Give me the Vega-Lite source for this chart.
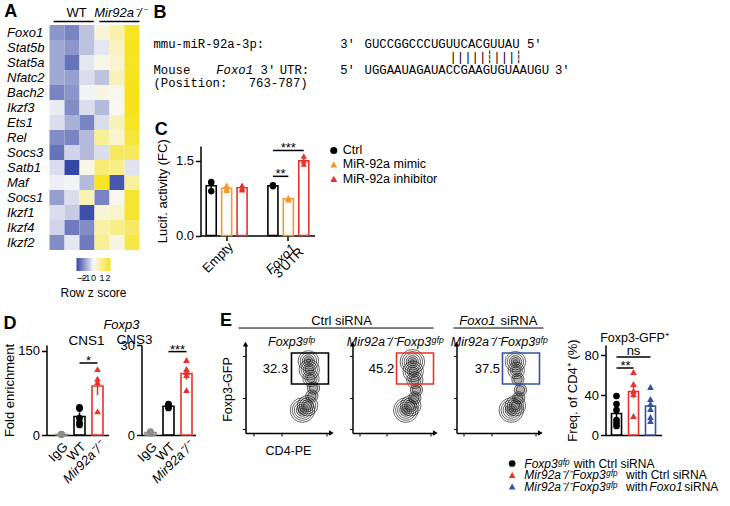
{
  "$schema": "https://vega.github.io/schema/vega-lite/v6.json",
  "autosize": {"type": "pad"},
  "padding": {"left": 2.5, "top": 3, "right": 0, "bottom": 0},
  "background": "white",
  "bounds": "flush",
  "spacing": 338,
  "config": {
    "view": {"stroke": null},
    "font": "Liberation Sans",
    "axis": {"domainColor": "#000", "domainWidth": 1.5, "tickColor": "#000", "tickWidth": 1.5, "tickSize": 5, "labelColor": "#000", "labelFontSize": 13, "labelFont": "Liberation Sans", "titleFont": "Liberation Sans", "titleFontSize": 13, "titleFontWeight": "normal", "titleColor": "#000", "grid": false, "labelPadding": 2},
    "title": {"font": "Liberation Sans", "color": "#000", "fontWeight": "normal"},
    "text": {"font": "Liberation Sans", "color": "#000"},
    "legend": {"labelFont": "Liberation Sans", "titleFont": "Liberation Sans", "labelColor": "#000", "titleColor": "#000"}
  },
  "resolve": {"scale": {"color": "independent", "shape": "independent", "stroke": "independent", "size": "independent"}, "legend": {"color": "independent", "shape": "independent", "stroke": "independent", "size": "independent"}},
  "datasets": {
    "heat": [
      {"gene": "Foxo1", "WT1": -1.1, "WT2": -1.3, "WT3": -0.6, "KO1": 0.3, "KO2": 0.7, "KO3": 1.9},
      {"gene": "Stat5b", "WT1": -0.9, "WT2": -1.1, "WT3": -0.6, "KO1": -0.2, "KO2": 0.5, "KO3": 1.95},
      {"gene": "Stat5a", "WT1": -0.9, "WT2": -1.5, "WT3": -0.2, "KO1": 0.15, "KO2": 0.35, "KO3": 1.9},
      {"gene": "Nfatc2", "WT1": -0.9, "WT2": -1.0, "WT3": -0.3, "KO1": -0.6, "KO2": 0.55, "KO3": 1.95},
      {"gene": "Bach2", "WT1": -1.3, "WT2": -1.1, "WT3": -0.05, "KO1": 0.2, "KO2": 0.1, "KO3": 2.0},
      {"gene": "Ikzf3", "WT1": -0.15, "WT2": -1.2, "WT3": -0.3, "KO1": -0.7, "KO2": 0.05, "KO3": 2.0},
      {"gene": "Ets1", "WT1": -0.3, "WT2": -0.8, "WT3": -1.3, "KO1": -0.3, "KO2": 0.55, "KO3": 1.9},
      {"gene": "Rel", "WT1": -1.2, "WT2": -1.3, "WT3": -0.7, "KO1": 0.9, "KO2": 0.4, "KO3": 1.7},
      {"gene": "Socs3", "WT1": -1.5, "WT2": -0.4, "WT3": -0.7, "KO1": -0.3, "KO2": 1.4, "KO3": 1.4},
      {"gene": "Satb1", "WT1": -0.3, "WT2": -2.0, "WT3": 0.15, "KO1": 1.2, "KO2": 1.0, "KO3": -0.25},
      {"gene": "Maf", "WT1": -0.1, "WT2": -0.05, "WT3": -0.7, "KO1": 1.9, "KO2": -1.8, "KO3": 0.8},
      {"gene": "Socs1", "WT1": -1.0, "WT2": -0.3, "WT3": 0.6, "KO1": -1.3, "KO2": 0.1, "KO3": 1.8},
      {"gene": "Ikzf1", "WT1": -0.3, "WT2": -0.5, "WT3": -1.9, "KO1": 0.3, "KO2": 0.4, "KO3": 1.8},
      {"gene": "Ikzf4", "WT1": -0.4, "WT2": -1.4, "WT3": -1.2, "KO1": 0.7, "KO2": 1.0, "KO3": 1.3},
      {"gene": "Ikzf2", "WT1": -1.2, "WT2": -0.2, "WT3": -1.4, "KO1": 0.9, "KO2": 0.2, "KO3": 1.6}
    ],
    "hmHeader": [
      {"group": "WT", "start": 0, "end": 2.8, "center": 1.6, "italic": false},
      {"group": "Mir92a⁻/⁻", "start": 3.2, "end": 6, "center": 4.63, "italic": true}
    ],
    "seq": [
      {"line": -1.42, "col": 0, "text": "B", "style": "letter"},
      {"line": 1, "col": 0, "text": "mmu-miR-92a-3p:", "style": "mono"},
      {"line": 1, "col": 25.3, "text": "3'", "style": "mono"},
      {"line": 1, "col": 28.6, "text": "GUCCGGCCCUGUUCACGUUAU", "style": "mono"},
      {"line": 1, "col": 50.6, "text": "5'", "style": "mono"},
      {"line": 2, "col": 40.1, "text": "|||||┆|||┆", "style": "mono"},
      {"line": 3, "col": 0, "text": "Mouse", "style": "mono"},
      {"line": 3, "col": 8.5, "text": "Foxo1", "style": "monoItalic"},
      {"line": 3, "col": 14.5, "text": "3′", "style": "mono"},
      {"line": 3, "col": 17.1, "text": "UTR:", "style": "mono"},
      {"line": 3, "col": 25.3, "text": "5′", "style": "mono"},
      {"line": 3, "col": 28.6, "text": "UGGAAUAGAUACCGAAGUGUAAUGU", "style": "mono"},
      {"line": 3, "col": 54.4, "text": "3′", "style": "mono"},
      {"line": 4, "col": 0, "text": "(Position:", "style": "mono"},
      {"line": 4, "col": 12.9, "text": "763-787)", "style": "mono"}
    ],
    "lucifBars": [
      {"bar": "Empty|Ctrl", "trt": "Ctrl", "mean": 1.0, "lo": 0.94, "hi": 1.06},
      {"bar": "Empty|MiR-92a mimic", "trt": "MiR-92a mimic", "mean": 0.95, "lo": 0.92, "hi": 0.98},
      {"bar": "Empty|MiR-92a inhibitor", "trt": "MiR-92a inhibitor", "mean": 0.96, "lo": 0.93, "hi": 0.99},
      {"bar": "Foxo1|Ctrl", "trt": "Ctrl", "mean": 1.0, "lo": 0.99, "hi": 1.01},
      {"bar": "Foxo1|MiR-92a mimic", "trt": "MiR-92a mimic", "mean": 0.74, "lo": 0.725, "hi": 0.755},
      {"bar": "Foxo1|MiR-92a inhibitor", "trt": "MiR-92a inhibitor", "mean": 1.5, "lo": 1.45, "hi": 1.55}
    ],
    "lucifPts": [
      {"bar": "Empty|Ctrl", "treatment": "Ctrl", "value": 1.08},
      {"bar": "Empty|Ctrl", "treatment": "Ctrl", "value": 1.06},
      {"bar": "Empty|Ctrl", "treatment": "Ctrl", "value": 0.89},
      {"bar": "Empty|MiR-92a mimic", "treatment": "MiR-92a mimic", "value": 1.01},
      {"bar": "Empty|MiR-92a mimic", "treatment": "MiR-92a mimic", "value": 0.95},
      {"bar": "Empty|MiR-92a mimic", "treatment": "MiR-92a mimic", "value": 0.92},
      {"bar": "Empty|MiR-92a mimic", "treatment": "MiR-92a mimic", "value": 0.91},
      {"bar": "Empty|MiR-92a inhibitor", "treatment": "MiR-92a inhibitor", "value": 1.01},
      {"bar": "Empty|MiR-92a inhibitor", "treatment": "MiR-92a inhibitor", "value": 0.95},
      {"bar": "Empty|MiR-92a inhibitor", "treatment": "MiR-92a inhibitor", "value": 0.92},
      {"bar": "Foxo1|Ctrl", "treatment": "Ctrl", "value": 1.01},
      {"bar": "Foxo1|Ctrl", "treatment": "Ctrl", "value": 1.0},
      {"bar": "Foxo1|Ctrl", "treatment": "Ctrl", "value": 0.99},
      {"bar": "Foxo1|MiR-92a mimic", "treatment": "MiR-92a mimic", "value": 0.76},
      {"bar": "Foxo1|MiR-92a mimic", "treatment": "MiR-92a mimic", "value": 0.74},
      {"bar": "Foxo1|MiR-92a mimic", "treatment": "MiR-92a mimic", "value": 0.72},
      {"bar": "Foxo1|MiR-92a inhibitor", "treatment": "MiR-92a inhibitor", "value": 1.6},
      {"bar": "Foxo1|MiR-92a inhibitor", "treatment": "MiR-92a inhibitor", "value": 1.5},
      {"bar": "Foxo1|MiR-92a inhibitor", "treatment": "MiR-92a inhibitor", "value": 1.44}
    ],
    "lucifLegend": [
      {"bar": "Foxo1|MiR-92a inhibitor", "treatment": "Ctrl", "y": 1.71},
      {"bar": "Foxo1|MiR-92a inhibitor", "treatment": "MiR-92a mimic", "y": 1.43},
      {"bar": "Foxo1|MiR-92a inhibitor", "treatment": "MiR-92a inhibitor", "y": 1.14}
    ],
    "lucifSig": [
      {"from": "Foxo1|Ctrl", "to": "Foxo1|MiR-92a mimic", "y": 1.19},
      {"from": "Foxo1|Ctrl", "to": "Foxo1|MiR-92a inhibitor", "y": 1.71}
    ],
    "chipBars": [
      {"region": "CNS1", "cond": "IgG", "mean": 1, "lo": 0.6, "hi": 1.4},
      {"region": "CNS1", "cond": "WT", "mean": 33, "lo": 26, "hi": 40},
      {"region": "CNS1", "cond": "Mir92a⁻/⁻", "mean": 87, "lo": 71, "hi": 103},
      {"region": "CNS3", "cond": "IgG", "mean": 0.8, "lo": 0.6, "hi": 1.0},
      {"region": "CNS3", "cond": "WT", "mean": 9.6, "lo": 9.2, "hi": 10.0},
      {"region": "CNS3", "cond": "Mir92a⁻/⁻", "mean": 20.5, "lo": 18.5, "hi": 22.5}
    ],
    "chipPts": [
      {"region": "CNS1", "cond": "IgG", "value": 0.4},
      {"region": "CNS1", "cond": "IgG", "value": 0.9},
      {"region": "CNS1", "cond": "IgG", "value": 1.3},
      {"region": "CNS1", "cond": "IgG", "value": 1.6},
      {"region": "CNS1", "cond": "WT", "value": 49},
      {"region": "CNS1", "cond": "WT", "value": 47},
      {"region": "CNS1", "cond": "WT", "value": 30},
      {"region": "CNS1", "cond": "WT", "value": 22},
      {"region": "CNS1", "cond": "WT", "value": 18},
      {"region": "CNS1", "cond": "Mir92a⁻/⁻", "value": 117},
      {"region": "CNS1", "cond": "Mir92a⁻/⁻", "value": 100},
      {"region": "CNS1", "cond": "Mir92a⁻/⁻", "value": 94},
      {"region": "CNS1", "cond": "Mir92a⁻/⁻", "value": 42},
      {"region": "CNS3", "cond": "IgG", "value": 0.5},
      {"region": "CNS3", "cond": "IgG", "value": 0.8},
      {"region": "CNS3", "cond": "IgG", "value": 1.0},
      {"region": "CNS3", "cond": "IgG", "value": 1.1},
      {"region": "CNS3", "cond": "WT", "value": 10.3},
      {"region": "CNS3", "cond": "WT", "value": 9.9},
      {"region": "CNS3", "cond": "WT", "value": 9.4},
      {"region": "CNS3", "cond": "WT", "value": 9.0},
      {"region": "CNS3", "cond": "Mir92a⁻/⁻", "value": 25},
      {"region": "CNS3", "cond": "Mir92a⁻/⁻", "value": 22},
      {"region": "CNS3", "cond": "Mir92a⁻/⁻", "value": 21},
      {"region": "CNS3", "cond": "Mir92a⁻/⁻", "value": 20},
      {"region": "CNS3", "cond": "Mir92a⁻/⁻", "value": 15}
    ],
    "chipSig": [
      {"region": "CNS1", "from": "WT", "to": "Mir92a⁻/⁻", "y": 128, "label": "*"},
      {"region": "CNS3", "from": "WT", "to": "Mir92a⁻/⁻", "y": 27.8, "label": "***"}
    ],
    "freqBars": [
      {"grp": "Foxp3gfp with Ctrl siRNA", "mean": 21.5, "lo": 17, "hi": 26},
      {"grp": "Mir92a-/-Foxp3gfp with Ctrl siRNA", "mean": 43.5, "lo": 37, "hi": 50},
      {"grp": "Mir92a-/-Foxp3gfp with Foxo1 siRNA", "mean": 29, "lo": 24, "hi": 34}
    ],
    "freqPts": [
      {"grp": "Foxp3gfp with Ctrl siRNA", "value": 39},
      {"grp": "Foxp3gfp with Ctrl siRNA", "value": 31},
      {"grp": "Foxp3gfp with Ctrl siRNA", "value": 25},
      {"grp": "Foxp3gfp with Ctrl siRNA", "value": 15},
      {"grp": "Foxp3gfp with Ctrl siRNA", "value": 12},
      {"grp": "Foxp3gfp with Ctrl siRNA", "value": 9},
      {"grp": "Mir92a-/-Foxp3gfp with Ctrl siRNA", "value": 63},
      {"grp": "Mir92a-/-Foxp3gfp with Ctrl siRNA", "value": 51},
      {"grp": "Mir92a-/-Foxp3gfp with Ctrl siRNA", "value": 44},
      {"grp": "Mir92a-/-Foxp3gfp with Ctrl siRNA", "value": 41},
      {"grp": "Mir92a-/-Foxp3gfp with Ctrl siRNA", "value": 19},
      {"grp": "Mir92a-/-Foxp3gfp with Foxo1 siRNA", "value": 48},
      {"grp": "Mir92a-/-Foxp3gfp with Foxo1 siRNA", "value": 36},
      {"grp": "Mir92a-/-Foxp3gfp with Foxo1 siRNA", "value": 31},
      {"grp": "Mir92a-/-Foxp3gfp with Foxo1 siRNA", "value": 26},
      {"grp": "Mir92a-/-Foxp3gfp with Foxo1 siRNA", "value": 18},
      {"grp": "Mir92a-/-Foxp3gfp with Foxo1 siRNA", "value": 14}
    ],
    "freqSig": [
      {"from": "Foxp3gfp with Ctrl siRNA", "to": "Mir92a-/-Foxp3gfp with Ctrl siRNA", "y": 67},
      {"from": "Foxp3gfp with Ctrl siRNA", "to": "Mir92a-/-Foxp3gfp with Foxo1 siRNA", "y": 78}
    ],
    "rings": [
      {"plot": 1, "cx": 74, "cy": 82, "rings": [1, 2, 3, 4, 5]},
      {"plot": 1, "cx": 75, "cy": 72, "rings": [2, 3, 4, 5]},
      {"plot": 1, "cx": 77, "cy": 62, "rings": [2, 3, 4]},
      {"plot": 1, "cx": 80, "cy": 51, "rings": [2, 3]},
      {"plot": 1, "cx": 78, "cy": 42, "rings": [2, 3]},
      {"plot": 1, "cx": 67, "cy": 26, "rings": [1, 2, 3, 4, 5, 6]},
      {"plot": 1, "cx": 73, "cy": 31, "rings": [2, 3, 4, 5]},
      {"plot": 2, "cx": 73, "cy": 81, "rings": [1, 2, 3, 4, 5, 6]},
      {"plot": 2, "cx": 74, "cy": 70, "rings": [2, 3, 4, 5]},
      {"plot": 2, "cx": 76, "cy": 60, "rings": [2, 3, 4]},
      {"plot": 2, "cx": 78, "cy": 49, "rings": [2, 3]},
      {"plot": 2, "cx": 76, "cy": 40, "rings": [2, 3]},
      {"plot": 2, "cx": 65, "cy": 26, "rings": [1, 2, 3, 4, 5, 6]},
      {"plot": 2, "cx": 71, "cy": 31, "rings": [2, 3, 4, 5]},
      {"plot": 3, "cx": 71, "cy": 81, "rings": [1, 2, 3, 4, 5]},
      {"plot": 3, "cx": 72, "cy": 71, "rings": [2, 3, 4]},
      {"plot": 3, "cx": 74, "cy": 61, "rings": [2, 3]},
      {"plot": 3, "cx": 77, "cy": 49, "rings": [2, 3]},
      {"plot": 3, "cx": 75, "cy": 40, "rings": [2, 3]},
      {"plot": 3, "cx": 66, "cy": 26, "rings": [1, 2, 3, 4, 5, 6]},
      {"plot": 3, "cx": 71, "cy": 31, "rings": [2, 3, 4, 5]}
    ],
    "gates": [
      {"plot": 1, "x1": 54.1, "x2": 97.6, "y1": 55.7, "y2": 90.9, "label": "32.3", "lx": 35.3, "ly": 72.7},
      {"plot": 2, "x1": 53.7, "x2": 98.8, "y1": 55.7, "y2": 90.9, "label": "45.2", "lx": 35.4, "ly": 72.7},
      {"plot": 3, "x1": 55.4, "x2": 100, "y1": 55.7, "y2": 90.9, "label": "37.5", "lx": 37.3, "ly": 72.7}
    ],
    "axisEnds": [
      {"x": 0, "y": 101, "dir": "up"},
      {"x": 101, "y": 0, "dir": "right"}
    ],
    "eLegSym": [
      {"row": 1, "grp": "Foxp3gfp with Ctrl siRNA"},
      {"row": 2, "grp": "Mir92a-/-Foxp3gfp with Ctrl siRNA"},
      {"row": 3, "grp": "Mir92a-/-Foxp3gfp with Foxo1 siRNA"}
    ],
    "eLegText": [
      {"row": 1, "x": 13, "text": "Foxp3ᵍᶠᵖ", "style": "italic"},
      {"row": 1, "x": 66, "text": "with Ctrl siRNA", "style": "normal"},
      {"row": 2, "x": 13, "text": "Mir92a⁻/⁻Foxp3ᵍᶠᵖ", "style": "italic"},
      {"row": 2, "x": 122, "text": "with Ctrl siRNA", "style": "normal"},
      {"row": 3, "x": 13, "text": "Mir92a⁻/⁻Foxp3ᵍᶠᵖ", "style": "italic"},
      {"row": 3, "x": 122, "text": "with", "style": "normal"},
      {"row": 3, "x": 147, "text": "Foxo1", "style": "italic"},
      {"row": 3, "x": 184.5, "text": "siRNA", "style": "normal"}
    ]
  },
  "vconcat": [
    {
      "hconcat": [
        {
          "vconcat": [
            {
              "width": 93, "height": 18,
              "layer": [
                {"data": {"name": "hmHeader"}, "mark": {"type": "rule", "strokeWidth": 1.5, "color": "#000"},
                 "encoding": {"x": {"field": "start", "type": "quantitative", "scale": {"domain": [-0.2, 6]}, "axis": null}, "x2": {"field": "end"}, "y": {"datum": 0.19, "type": "quantitative", "scale": {"domain": [0, 1]}, "axis": null}}},
                {"data": {"name": "hmHeader"}, "transform": [{"filter": "!datum.italic"}], "mark": {"type": "text", "fontSize": 13, "baseline": "middle", "align": "center"},
                 "encoding": {"x": {"field": "center", "type": "quantitative"}, "y": {"datum": 0.67, "type": "quantitative"}, "text": {"field": "group"}}},
                {"data": {"name": "hmHeader"}, "transform": [{"filter": "datum.italic"}], "mark": {"type": "text", "fontSize": 13, "fontStyle": "italic", "baseline": "middle", "align": "center"},
                 "encoding": {"x": {"field": "center", "type": "quantitative"}, "y": {"datum": 0.67, "type": "quantitative"}, "text": {"field": "group"}}},
                {"data": {"values": [{"t": "A", "x": -3.0, "y": 0.72}]}, "mark": {"type": "text", "fontSize": 18, "fontWeight": "bold", "baseline": "middle", "align": "center"},
                 "encoding": {"x": {"field": "x", "type": "quantitative"}, "y": {"field": "y", "type": "quantitative"}, "text": {"field": "t"}}}
              ]
            },
            {
              "width": 93, "height": 225,
              "data": {"name": "heat"},
              "transform": [{"fold": ["WT1", "WT2", "WT3", "KO1", "KO2", "KO3"], "as": ["sample", "z"]}],
              "mark": {"type": "rect"},
              "encoding": {
                "x": {"field": "sample", "type": "nominal", "sort": ["WT1", "WT2", "WT3", "KO1", "KO2", "KO3"], "scale": {"paddingInner": 0, "paddingOuter": 0.1, "align": 1}, "axis": null},
                "y": {"field": "gene", "type": "nominal", "sort": ["Foxo1", "Stat5b", "Stat5a", "Nfatc2", "Bach2", "Ikzf3", "Ets1", "Rel", "Socs3", "Satb1", "Maf", "Socs1", "Ikzf1", "Ikzf4", "Ikzf2"], "scale": {"paddingInner": 0, "paddingOuter": 0},
                      "axis": {"title": null, "ticks": false, "domain": false, "labelAlign": "left", "labelPadding": 40, "labelFontStyle": "italic", "labelFontSize": 13, "labelBaseline": "middle"}},
                "color": {"field": "z", "type": "quantitative", "scale": {"domain": [-2, 0, 2], "range": ["#3446a6", "#f8f8f8", "#f6e31a"], "interpolate": "rgb"},
                          "legend": {"orient": "none", "legendX": 14, "legendY": 233, "direction": "horizontal", "gradientLength": 34, "gradientThickness": 13, "title": "Row z score", "titleOrient": "bottom", "titleFontSize": 12, "titleFontWeight": "normal", "titleAnchor": "middle", "values": [-2, -1, 0, 1, 2], "labelFontSize": 9, "labelOverlap": false, "padding": 0, "titlePadding": 5, "labelOffset": 3}}
              }
            }
          ],
          "spacing": 0, "bounds": "flush",
          "resolve": {"scale": {"color": "independent"}, "legend": {"color": "independent"}}
        },
        {
          "vconcat": [
            {
              "width": 348, "height": 82.5,
              "data": {"name": "seq"},
              "encoding": {
                "x": {"field": "col", "type": "quantitative", "scale": {"domain": [6.37, 53.52]}, "axis": null},
                "y": {"field": "line", "type": "quantitative", "scale": {"domain": [-1.846, 4.5], "reverse": true}, "axis": null},
                "text": {"field": "text"}
              },
              "layer": [
                {"transform": [{"filter": "datum.style == 'mono'"}], "mark": {"type": "text", "font": "Liberation Mono", "fontSize": 12.3, "align": "left", "baseline": "middle", "color": "#000"}},
                {"transform": [{"filter": "datum.style == 'monoItalic'"}], "mark": {"type": "text", "font": "Liberation Mono", "fontStyle": "italic", "fontSize": 12.3, "align": "left", "baseline": "middle", "color": "#000"}},
                {"transform": [{"filter": "datum.style == 'letter'"}], "mark": {"type": "text", "font": "Liberation Sans", "fontSize": 18, "fontWeight": "bold", "align": "left", "baseline": "middle", "color": "#000"}}
              ]
            },
            {
              "width": 114, "height": 89.5,
              "layer": [
                {"data": {"name": "lucifBars"}, "mark": {"type": "bar", "fill": "white", "strokeWidth": 1.6},
                 "encoding": {
                   "x": {"field": "bar", "type": "nominal", "scale": {"domain": ["Empty|Ctrl", "Empty|MiR-92a mimic", "Empty|MiR-92a inhibitor", "gap", "Foxo1|Ctrl", "Foxo1|MiR-92a mimic", "Foxo1|MiR-92a inhibitor"], "paddingInner": 0.35, "paddingOuter": 0.371},
                         "axis": {"values": ["Empty|MiR-92a mimic", "Foxo1|MiR-92a mimic"], "labels": false, "title": null, "ticks": true, "tickSize": 5}},
                   "y": {"field": "mean", "type": "quantitative", "scale": {"domain": [0, 1.8]}, "axis": {"values": [0, 0.5, 1, 1.5], "format": ".1f", "title": "Lucif. activity (FC)", "titlePadding": 6}},
                   "stroke": {"field": "trt", "type": "nominal", "scale": {"domain": ["Ctrl", "MiR-92a mimic", "MiR-92a inhibitor"], "range": ["#000000", "#f39a2c", "#e8322b"]}, "legend": null}
                 }},
                {"data": {"name": "lucifBars"}, "mark": {"type": "rule", "strokeWidth": 1.5},
                 "encoding": {"x": {"field": "bar", "type": "nominal"}, "y": {"field": "lo", "type": "quantitative"}, "y2": {"field": "hi"}, "stroke": {"field": "trt", "type": "nominal", "legend": null}}},
                {"data": {"name": "lucifPts"}, "mark": {"type": "point", "filled": true, "size": 40, "opacity": 1},
                 "encoding": {
                   "x": {"field": "bar", "type": "nominal"},
                   "y": {"field": "value", "type": "quantitative"},
                   "color": {"field": "treatment", "type": "nominal", "scale": {"domain": ["Ctrl", "MiR-92a mimic", "MiR-92a inhibitor"], "range": ["#000000", "#f39a2c", "#e8322b"]}, "legend": null},
                   "shape": {"field": "treatment", "type": "nominal", "scale": {"domain": ["Ctrl", "MiR-92a mimic", "MiR-92a inhibitor"], "range": ["circle", "triangle-up", "triangle-up"]}, "legend": null}
                 }},
                {"data": {"name": "lucifLegend"}, "mark": {"type": "point", "filled": true, "size": 50, "opacity": 1, "xOffset": 30},
                 "encoding": {"x": {"field": "bar", "type": "nominal"}, "y": {"field": "y", "type": "quantitative"}, "color": {"field": "treatment", "type": "nominal"}, "shape": {"field": "treatment", "type": "nominal"}}},
                {"data": {"name": "lucifLegend"}, "mark": {"type": "text", "fontSize": 12.5, "align": "left", "baseline": "middle", "dx": 39},
                 "encoding": {"x": {"field": "bar", "type": "nominal"}, "y": {"field": "y", "type": "quantitative"}, "text": {"field": "treatment"}}},
                {"data": {"name": "lucifSig"}, "mark": {"type": "rule", "strokeWidth": 1.5, "color": "#000"},
                 "encoding": {"x": {"field": "from", "type": "nominal"}, "x2": {"field": "to"}, "y": {"field": "y", "type": "quantitative"}}},
                {"data": {"values": [{"bar": "Foxo1|Ctrl", "y": 1.19, "t": "**"}]}, "mark": {"type": "text", "fontSize": 13, "align": "center", "baseline": "alphabetic", "dx": 7.7, "dy": 2},
                 "encoding": {"x": {"field": "bar", "type": "nominal"}, "y": {"field": "y", "type": "quantitative"}, "text": {"field": "t"}}},
                {"data": {"values": [{"bar": "Foxo1|MiR-92a mimic", "y": 1.71, "t": "***"}]}, "mark": {"type": "text", "fontSize": 13, "align": "center", "baseline": "alphabetic", "dy": 2},
                 "encoding": {"x": {"field": "bar", "type": "nominal"}, "y": {"field": "y", "type": "quantitative"}, "text": {"field": "t"}}},
                {"data": {"values": [{"bar": "Empty|MiR-92a mimic", "y": -0.1, "t": "Empty"}]}, "mark": {"type": "text", "fontSize": 13, "angle": 315, "align": "right", "baseline": "top"},
                 "encoding": {"x": {"field": "bar", "type": "nominal"}, "y": {"field": "y", "type": "quantitative"}, "text": {"field": "t"}}},
                {"data": {"values": [{"bar": "Foxo1|MiR-92a mimic", "y": -0.16, "t": "Foxo1"}]}, "mark": {"type": "text", "fontSize": 13, "fontStyle": "italic", "angle": 315, "align": "right", "baseline": "top", "dx": 1.5},
                 "encoding": {"x": {"field": "bar", "type": "nominal"}, "y": {"field": "y", "type": "quantitative"}, "text": {"field": "t"}}},
                {"data": {"values": [{"bar": "Foxo1|MiR-92a mimic", "y": -0.39, "t": "3′UTR"}]}, "mark": {"type": "text", "fontSize": 13, "angle": 315, "align": "right", "baseline": "top", "dx": 12.8},
                 "encoding": {"x": {"field": "bar", "type": "nominal"}, "y": {"field": "y", "type": "quantitative"}, "text": {"field": "t"}}},
                {"data": {"values": [{"bar": "Empty|Ctrl", "y": 2.12, "t": "C"}]}, "mark": {"type": "text", "fontSize": 18, "fontWeight": "bold", "align": "center", "baseline": "middle", "dx": -50},
                 "encoding": {"x": {"field": "bar", "type": "nominal"}, "y": {"field": "y", "type": "quantitative"}, "text": {"field": "t"}}}
              ]
            }
          ],
          "spacing": 56, "bounds": "flush",
          "resolve": {"scale": {"color": "independent", "shape": "independent", "stroke": "independent"}, "legend": {"color": "independent", "shape": "independent", "stroke": "independent"}}
        }
      ],
      "spacing": 154, "bounds": "flush",
      "resolve": {"scale": {"color": "independent", "shape": "independent", "stroke": "independent"}, "legend": {"color": "independent", "shape": "independent", "stroke": "independent"}}
    },
    {
      "hconcat": [
        {
          "hconcat": [
            {
              "width": 62, "height": 90,
              "layer": [
                {"data": {"name": "chipBars"}, "transform": [{"filter": "datum.region == 'CNS1'"}], "mark": {"type": "bar", "fill": "white", "strokeWidth": 1.6},
                 "encoding": {
                   "x": {"field": "cond", "type": "nominal", "scale": {"domain": ["IgG", "WT", "Mir92a⁻/⁻"], "paddingInner": 0.39, "paddingOuter": 0.417, "align": 0.633},
                         "axis": {"labelAngle": -45, "ticks": false, "tickSize": 0, "labelPadding": 5, "title": null, "labelFontSize": 13,
                                  "labelFontStyle": {"condition": {"test": "datum.value === 'Mir92a⁻/⁻'", "value": "italic"}, "value": "normal"}}},
                   "y": {"field": "mean", "type": "quantitative", "scale": {"domain": [0, 150]}, "axis": {"values": [0, 50, 100, 150], "title": "Fold enrichment", "titlePadding": 1}},
                   "stroke": {"field": "cond", "type": "nominal", "scale": {"domain": ["IgG", "WT", "Mir92a⁻/⁻"], "range": ["#8c8c8c", "#000000", "#e8322b"]}, "legend": null}
                 }},
                {"data": {"name": "chipBars"}, "transform": [{"filter": "datum.region == 'CNS1'"}], "mark": {"type": "rule", "strokeWidth": 1.5},
                 "encoding": {"x": {"field": "cond", "type": "nominal"}, "y": {"field": "lo", "type": "quantitative"}, "y2": {"field": "hi"}, "stroke": {"field": "cond", "type": "nominal"}}},
                {"data": {"name": "chipPts"}, "transform": [{"filter": "datum.region == 'CNS1'"}], "mark": {"type": "point", "filled": true, "size": 45, "opacity": 1},
                 "encoding": {"x": {"field": "cond", "type": "nominal"}, "y": {"field": "value", "type": "quantitative"},
                   "color": {"field": "cond", "type": "nominal", "scale": {"domain": ["IgG", "WT", "Mir92a⁻/⁻"], "range": ["#8c8c8c", "#000000", "#e8322b"]}, "legend": null},
                   "shape": {"field": "cond", "type": "nominal", "scale": {"domain": ["IgG", "WT", "Mir92a⁻/⁻"], "range": ["circle", "circle", "triangle-up"]}, "legend": null}}},
                {"data": {"name": "chipSig"}, "transform": [{"filter": "datum.region == 'CNS1'"}], "mark": {"type": "rule", "strokeWidth": 1.5, "color": "#000"},
                 "encoding": {"x": {"field": "from", "type": "nominal"}, "x2": {"field": "to"}, "y": {"field": "y", "type": "quantitative"}}},
                {"data": {"name": "chipSig"}, "transform": [{"filter": "datum.region == 'CNS1'"}], "mark": {"type": "text", "fontSize": 13, "align": "center", "baseline": "alphabetic", "dx": 9, "dy": 2},
                 "encoding": {"x": {"field": "from", "type": "nominal"}, "y": {"field": "y", "type": "quantitative"}, "text": {"field": "label"}}},
                {"data": {"values": [{"cond": "IgG", "y": 198, "t": "D"}]}, "mark": {"type": "text", "fontSize": 18, "fontWeight": "bold", "align": "center", "baseline": "middle", "dx": -51.5},
                 "encoding": {"x": {"field": "cond", "type": "nominal"}, "y": {"field": "y", "type": "quantitative"}, "text": {"field": "t"}}},
                {"data": {"values": [{"cond": "WT", "y": 168, "t": "CNS1"}]}, "mark": {"type": "text", "fontSize": 13.5, "align": "center", "baseline": "middle", "dx": 7},
                 "encoding": {"x": {"field": "cond", "type": "nominal"}, "y": {"field": "y", "type": "quantitative"}, "text": {"field": "t"}}}
              ]
            },
            {
              "width": 54, "height": 90,
              "layer": [
                {"data": {"name": "chipBars"}, "transform": [{"filter": "datum.region == 'CNS3'"}], "mark": {"type": "bar", "fill": "white", "strokeWidth": 1.6},
                 "encoding": {
                   "x": {"field": "cond", "type": "nominal", "scale": {"domain": ["IgG", "WT", "Mir92a⁻/⁻"], "paddingInner": 0.39, "paddingOuter": 0.194, "align": 0.5},
                         "axis": {"labelAngle": -45, "ticks": false, "tickSize": 0, "labelPadding": 5, "title": null, "labelFontSize": 13,
                                  "labelFontStyle": {"condition": {"test": "datum.value === 'Mir92a⁻/⁻'", "value": "italic"}, "value": "normal"}}},
                   "y": {"field": "mean", "type": "quantitative", "scale": {"domain": [0, 30]}, "axis": {"values": [0, 10, 20, 30], "title": null}},
                   "stroke": {"field": "cond", "type": "nominal", "scale": {"domain": ["IgG", "WT", "Mir92a⁻/⁻"], "range": ["#8c8c8c", "#000000", "#e8322b"]}, "legend": null}
                 }},
                {"data": {"name": "chipBars"}, "transform": [{"filter": "datum.region == 'CNS3'"}], "mark": {"type": "rule", "strokeWidth": 1.5},
                 "encoding": {"x": {"field": "cond", "type": "nominal"}, "y": {"field": "lo", "type": "quantitative"}, "y2": {"field": "hi"}, "stroke": {"field": "cond", "type": "nominal"}}},
                {"data": {"name": "chipPts"}, "transform": [{"filter": "datum.region == 'CNS3'"}], "mark": {"type": "point", "filled": true, "size": 45, "opacity": 1},
                 "encoding": {"x": {"field": "cond", "type": "nominal"}, "y": {"field": "value", "type": "quantitative"},
                   "color": {"field": "cond", "type": "nominal", "scale": {"domain": ["IgG", "WT", "Mir92a⁻/⁻"], "range": ["#8c8c8c", "#000000", "#e8322b"]}, "legend": null},
                   "shape": {"field": "cond", "type": "nominal", "scale": {"domain": ["IgG", "WT", "Mir92a⁻/⁻"], "range": ["circle", "circle", "triangle-up"]}, "legend": null}}},
                {"data": {"name": "chipSig"}, "transform": [{"filter": "datum.region == 'CNS3'"}], "mark": {"type": "rule", "strokeWidth": 1.5, "color": "#000"},
                 "encoding": {"x": {"field": "from", "type": "nominal"}, "x2": {"field": "to"}, "y": {"field": "y", "type": "quantitative"}}},
                {"data": {"name": "chipSig"}, "transform": [{"filter": "datum.region == 'CNS3'"}], "mark": {"type": "text", "fontSize": 13, "align": "center", "baseline": "alphabetic", "dx": 9, "dy": 2},
                 "encoding": {"x": {"field": "from", "type": "nominal"}, "y": {"field": "y", "type": "quantitative"}, "text": {"field": "t", "field": "label"}}},
                {"data": {"values": [{"cond": "IgG", "y": 31.6, "t": "CNS3"}]}, "mark": {"type": "text", "fontSize": 13.5, "align": "center", "baseline": "middle", "dx": -16},
                 "encoding": {"x": {"field": "cond", "type": "nominal"}, "y": {"field": "y", "type": "quantitative"}, "text": {"field": "t"}}},
                {"data": {"values": [{"cond": "IgG", "y": 36.8, "t": "Foxp3"}]}, "mark": {"type": "text", "fontSize": 13, "fontStyle": "italic", "align": "center", "baseline": "middle", "dx": -29},
                 "encoding": {"x": {"field": "cond", "type": "nominal"}, "y": {"field": "y", "type": "quantitative"}, "text": {"field": "t"}}}
              ]
            }
          ],
          "spacing": 33, "bounds": "flush",
          "resolve": {"scale": {"color": "independent", "shape": "independent", "stroke": "independent"}, "legend": {"color": "independent", "shape": "independent", "stroke": "independent"}}
        },
        {
          "hconcat": [
            {
              "hconcat": [
                {
                  "width": 85, "height": 88,
                  "layer": [
                    {"data": {"name": "rings"}, "transform": [{"filter": "datum.plot == 1"}, {"flatten": ["rings"], "as": ["ring"]}],
                     "mark": {"type": "point", "filled": false, "color": "#111", "strokeWidth": 0.7, "opacity": 0.9},
                     "encoding": {
                       "x": {"field": "cx", "type": "quantitative", "scale": {"domain": [0, 100]}, "axis": {"title": "CD4-PE", "labels": false, "values": [9, 24, 42, 71, 95], "tickSize": 3, "tickWidth": 1, "titlePadding": 8, "titleFontSize": 12.5}},
                       "y": {"field": "cy", "type": "quantitative", "scale": {"domain": [0, 100]}, "axis": {"title": "Foxp3-GFP", "labels": false, "values": [5, 24, 40, 65, 88], "tickSize": 3, "tickWidth": 1, "titlePadding": 8, "titleFontSize": 12.5}},
                       "size": {"field": "ring", "type": "quantitative", "scale": {"type": "pow", "exponent": 2, "domain": [0, 6], "range": [0, 600]}, "legend": null}
                     }},
                    {"data": {"name": "rings"}, "transform": [{"filter": "datum.plot == 1"}, {"flatten": ["rings"], "as": ["ring"]}, {"filter": "datum.ring <= 3"}],
                     "mark": {"type": "point", "filled": true, "color": "#222", "opacity": 0.2},
                     "encoding": {"x": {"field": "cx", "type": "quantitative"}, "y": {"field": "cy", "type": "quantitative"}, "size": {"field": "ring", "type": "quantitative"}}},
                    {"data": {"name": "gates"}, "transform": [{"filter": "datum.plot == 1"}], "mark": {"type": "rect", "filled": false, "color": "#000", "strokeWidth": 1.6},
                     "encoding": {"x": {"field": "x1", "type": "quantitative"}, "x2": {"field": "x2"}, "y": {"field": "y1", "type": "quantitative"}, "y2": {"field": "y2"}}},
                    {"data": {"name": "gates"}, "transform": [{"filter": "datum.plot == 1"}], "mark": {"type": "text", "fontSize": 13, "align": "center", "baseline": "middle"},
                     "encoding": {"x": {"field": "lx", "type": "quantitative"}, "y": {"field": "ly", "type": "quantitative"}, "text": {"field": "label"}}},
                    {"data": {"name": "axisEnds"}, "transform": [{"filter": "datum.dir == 'up'"}], "mark": {"type": "point", "shape": "triangle-up", "filled": true, "color": "#000", "size": 30, "opacity": 1},
                     "encoding": {"x": {"field": "x", "type": "quantitative"}, "y": {"field": "y", "type": "quantitative"}}},
                    {"data": {"name": "axisEnds"}, "transform": [{"filter": "datum.dir == 'right'"}], "mark": {"type": "point", "shape": "triangle-right", "filled": true, "color": "#000", "size": 30, "opacity": 1},
                     "encoding": {"x": {"field": "x", "type": "quantitative"}, "y": {"field": "y", "type": "quantitative"}}},
                    {"data": {"values": [{"x1": -8.2, "x2": 221.2, "y": 119.3}]}, "mark": {"type": "rule", "strokeWidth": 1, "color": "#000"},
                     "encoding": {"x": {"field": "x1", "type": "quantitative"}, "x2": {"field": "x2"}, "y": {"field": "y", "type": "quantitative"}}},
                    {"data": {"values": [{"x": 112.9, "y": 127.3, "t": "Ctrl siRNA"}]}, "mark": {"type": "text", "fontSize": 13, "align": "center", "baseline": "middle"},
                     "encoding": {"x": {"field": "x", "type": "quantitative"}, "y": {"field": "y", "type": "quantitative"}, "text": {"field": "t"}}},
                    {"data": {"values": [{"x": 54, "y": 103.4, "t": "Foxp3ᵍᶠᵖ"}]}, "mark": {"type": "text", "fontSize": 12.5, "fontStyle": "italic", "align": "center", "baseline": "middle"},
                     "encoding": {"x": {"field": "x", "type": "quantitative"}, "y": {"field": "y", "type": "quantitative"}, "text": {"field": "t"}}},
                    {"data": {"values": [{"x": -23, "y": 127.3, "t": "E"}]}, "mark": {"type": "text", "fontSize": 18, "fontWeight": "bold", "align": "center", "baseline": "middle"},
                     "encoding": {"x": {"field": "x", "type": "quantitative"}, "y": {"field": "y", "type": "quantitative"}, "text": {"field": "t"}}}
                  ]
                },
                {
                  "width": 82, "height": 88,
                  "layer": [
                    {"data": {"name": "rings"}, "transform": [{"filter": "datum.plot == 2"}, {"flatten": ["rings"], "as": ["ring"]}],
                     "mark": {"type": "point", "filled": false, "color": "#111", "strokeWidth": 0.7, "opacity": 0.9},
                     "encoding": {
                       "x": {"field": "cx", "type": "quantitative", "scale": {"domain": [0, 100]}, "axis": {"title": null, "labels": false, "values": [9, 24, 42, 71, 95], "tickSize": 3, "tickWidth": 1}},
                       "y": {"field": "cy", "type": "quantitative", "scale": {"domain": [0, 100]}, "axis": {"title": null, "labels": false, "values": [5, 24, 40, 65, 88], "tickSize": 3, "tickWidth": 1}},
                       "size": {"field": "ring", "type": "quantitative", "scale": {"type": "pow", "exponent": 2, "domain": [0, 6], "range": [0, 600]}, "legend": null}
                     }},
                    {"data": {"name": "rings"}, "transform": [{"filter": "datum.plot == 2"}, {"flatten": ["rings"], "as": ["ring"]}, {"filter": "datum.ring <= 3"}],
                     "mark": {"type": "point", "filled": true, "color": "#222", "opacity": 0.2},
                     "encoding": {"x": {"field": "cx", "type": "quantitative"}, "y": {"field": "cy", "type": "quantitative"}, "size": {"field": "ring", "type": "quantitative"}}},
                    {"data": {"name": "gates"}, "transform": [{"filter": "datum.plot == 2"}], "mark": {"type": "rect", "filled": false, "color": "#e8322b", "strokeWidth": 1.6},
                     "encoding": {"x": {"field": "x1", "type": "quantitative"}, "x2": {"field": "x2"}, "y": {"field": "y1", "type": "quantitative"}, "y2": {"field": "y2"}}},
                    {"data": {"name": "gates"}, "transform": [{"filter": "datum.plot == 2"}], "mark": {"type": "text", "fontSize": 13, "align": "center", "baseline": "middle"},
                     "encoding": {"x": {"field": "lx", "type": "quantitative"}, "y": {"field": "ly", "type": "quantitative"}, "text": {"field": "label"}}},
                    {"data": {"name": "axisEnds"}, "transform": [{"filter": "datum.dir == 'up'"}], "mark": {"type": "point", "shape": "triangle-up", "filled": true, "color": "#000", "size": 30, "opacity": 1},
                     "encoding": {"x": {"field": "x", "type": "quantitative"}, "y": {"field": "y", "type": "quantitative"}}},
                    {"data": {"name": "axisEnds"}, "transform": [{"filter": "datum.dir == 'right'"}], "mark": {"type": "point", "shape": "triangle-right", "filled": true, "color": "#000", "size": 30, "opacity": 1},
                     "encoding": {"x": {"field": "x", "type": "quantitative"}, "y": {"field": "y", "type": "quantitative"}}},
                    {"data": {"values": [{"x": 51.8, "y": 103.4, "t": "Mir92a⁻/⁻Foxp3ᵍᶠᵖ"}]}, "mark": {"type": "text", "fontSize": 12.5, "fontStyle": "italic", "align": "center", "baseline": "middle"},
                     "encoding": {"x": {"field": "x", "type": "quantitative"}, "y": {"field": "y", "type": "quantitative"}, "text": {"field": "t"}}}
                  ]
                },
                {
                  "width": 83, "height": 88,
                  "layer": [
                    {"data": {"name": "rings"}, "transform": [{"filter": "datum.plot == 3"}, {"flatten": ["rings"], "as": ["ring"]}],
                     "mark": {"type": "point", "filled": false, "color": "#111", "strokeWidth": 0.7, "opacity": 0.9},
                     "encoding": {
                       "x": {"field": "cx", "type": "quantitative", "scale": {"domain": [0, 100]}, "axis": {"title": null, "labels": false, "values": [9, 24, 42, 71, 95], "tickSize": 3, "tickWidth": 1}},
                       "y": {"field": "cy", "type": "quantitative", "scale": {"domain": [0, 100]}, "axis": {"title": null, "labels": false, "values": [5, 24, 40, 65, 88], "tickSize": 3, "tickWidth": 1}},
                       "size": {"field": "ring", "type": "quantitative", "scale": {"type": "pow", "exponent": 2, "domain": [0, 6], "range": [0, 600]}, "legend": null}
                     }},
                    {"data": {"name": "rings"}, "transform": [{"filter": "datum.plot == 3"}, {"flatten": ["rings"], "as": ["ring"]}, {"filter": "datum.ring <= 3"}],
                     "mark": {"type": "point", "filled": true, "color": "#222", "opacity": 0.2},
                     "encoding": {"x": {"field": "cx", "type": "quantitative"}, "y": {"field": "cy", "type": "quantitative"}, "size": {"field": "ring", "type": "quantitative"}}},
                    {"data": {"name": "gates"}, "transform": [{"filter": "datum.plot == 3"}], "mark": {"type": "rect", "filled": false, "color": "#3553a4", "strokeWidth": 1.6},
                     "encoding": {"x": {"field": "x1", "type": "quantitative"}, "x2": {"field": "x2"}, "y": {"field": "y1", "type": "quantitative"}, "y2": {"field": "y2"}}},
                    {"data": {"name": "gates"}, "transform": [{"filter": "datum.plot == 3"}], "mark": {"type": "text", "fontSize": 13, "align": "center", "baseline": "middle"},
                     "encoding": {"x": {"field": "lx", "type": "quantitative"}, "y": {"field": "ly", "type": "quantitative"}, "text": {"field": "label"}}},
                    {"data": {"name": "axisEnds"}, "transform": [{"filter": "datum.dir == 'up'"}], "mark": {"type": "point", "shape": "triangle-up", "filled": true, "color": "#000", "size": 30, "opacity": 1},
                     "encoding": {"x": {"field": "x", "type": "quantitative"}, "y": {"field": "y", "type": "quantitative"}}},
                    {"data": {"name": "axisEnds"}, "transform": [{"filter": "datum.dir == 'right'"}], "mark": {"type": "point", "shape": "triangle-right", "filled": true, "color": "#000", "size": 30, "opacity": 1},
                     "encoding": {"x": {"field": "x", "type": "quantitative"}, "y": {"field": "y", "type": "quantitative"}}},
                    {"data": {"values": [{"x1": -3.6, "x2": 104.8, "y": 119.3}]}, "mark": {"type": "rule", "strokeWidth": 1, "color": "#000"},
                     "encoding": {"x": {"field": "x1", "type": "quantitative"}, "x2": {"field": "x2"}, "y": {"field": "y", "type": "quantitative"}}},
                    {"data": {"values": [{"x": 47, "y": 127.3, "t": "Foxo1"}]}, "mark": {"type": "text", "fontSize": 13, "fontStyle": "italic", "align": "right", "baseline": "middle"},
                     "encoding": {"x": {"field": "x", "type": "quantitative"}, "y": {"field": "y", "type": "quantitative"}, "text": {"field": "t"}}},
                    {"data": {"values": [{"x": 53, "y": 127.3, "t": "siRNA"}]}, "mark": {"type": "text", "fontSize": 13, "align": "left", "baseline": "middle"},
                     "encoding": {"x": {"field": "x", "type": "quantitative"}, "y": {"field": "y", "type": "quantitative"}, "text": {"field": "t"}}},
                    {"data": {"values": [{"x": 51.2, "y": 103.4, "t": "Mir92a⁻/⁻Foxp3ᵍᶠᵖ"}]}, "mark": {"type": "text", "fontSize": 12.5, "fontStyle": "italic", "align": "center", "baseline": "middle"},
                     "encoding": {"x": {"field": "x", "type": "quantitative"}, "y": {"field": "y", "type": "quantitative"}, "text": {"field": "t"}}}
                  ]
                }
              ],
              "spacing": 22, "bounds": "flush",
              "resolve": {"scale": {"size": "independent"}, "legend": {"size": "independent"}}
            },
            {
              "vconcat": [
                {
                  "width": 56, "height": 90,
                  "layer": [
                    {"data": {"name": "freqBars"}, "mark": {"type": "bar", "fill": "white", "strokeWidth": 1.6},
                     "encoding": {
                       "x": {"field": "grp", "type": "nominal", "scale": {"domain": ["Foxp3gfp with Ctrl siRNA", "Mir92a-/-Foxp3gfp with Ctrl siRNA", "Mir92a-/-Foxp3gfp with Foxo1 siRNA"], "paddingInner": 0.41, "paddingOuter": 0.353}, "axis": {"labels": false, "ticks": false, "title": null}},
                       "y": {"field": "mean", "type": "quantitative", "scale": {"domain": [0, 90]}, "axis": {"values": [0, 20, 40, 60, 80], "title": "Freq. of CD4⁺ (%)", "titlePadding": 5}},
                       "stroke": {"field": "grp", "type": "nominal", "scale": {"domain": ["Foxp3gfp with Ctrl siRNA", "Mir92a-/-Foxp3gfp with Ctrl siRNA", "Mir92a-/-Foxp3gfp with Foxo1 siRNA"], "range": ["#000000", "#e8322b", "#3553a4"]}, "legend": null}
                     }},
                    {"data": {"name": "freqBars"}, "mark": {"type": "rule", "strokeWidth": 1.5},
                     "encoding": {"x": {"field": "grp", "type": "nominal"}, "y": {"field": "lo", "type": "quantitative"}, "y2": {"field": "hi"}, "stroke": {"field": "grp", "type": "nominal"}}},
                    {"data": {"name": "freqPts"}, "mark": {"type": "point", "filled": true, "size": 45, "opacity": 1},
                     "encoding": {"x": {"field": "grp", "type": "nominal"}, "y": {"field": "value", "type": "quantitative"},
                       "color": {"field": "grp", "type": "nominal", "scale": {"domain": ["Foxp3gfp with Ctrl siRNA", "Mir92a-/-Foxp3gfp with Ctrl siRNA", "Mir92a-/-Foxp3gfp with Foxo1 siRNA"], "range": ["#000000", "#e8322b", "#3553a4"]}, "legend": null},
                       "shape": {"field": "grp", "type": "nominal", "scale": {"domain": ["Foxp3gfp with Ctrl siRNA", "Mir92a-/-Foxp3gfp with Ctrl siRNA", "Mir92a-/-Foxp3gfp with Foxo1 siRNA"], "range": ["circle", "triangle-up", "triangle-up"]}, "legend": null}}},
                    {"data": {"name": "freqSig"}, "mark": {"type": "rule", "strokeWidth": 1.5, "color": "#000"},
                     "encoding": {"x": {"field": "from", "type": "nominal"}, "x2": {"field": "to"}, "y": {"field": "y", "type": "quantitative"}}},
                    {"data": {"values": [{"grp": "Foxp3gfp with Ctrl siRNA", "y": 67, "t": "**"}]}, "mark": {"type": "text", "fontSize": 13, "align": "center", "baseline": "alphabetic", "dx": 9, "dy": 2},
                     "encoding": {"x": {"field": "grp", "type": "nominal"}, "y": {"field": "y", "type": "quantitative"}, "text": {"field": "t"}}},
                    {"data": {"values": [{"grp": "Mir92a-/-Foxp3gfp with Ctrl siRNA", "y": 78, "t": "ns"}]}, "mark": {"type": "text", "fontSize": 13, "align": "center", "baseline": "alphabetic", "dy": -2},
                     "encoding": {"x": {"field": "grp", "type": "nominal"}, "y": {"field": "y", "type": "quantitative"}, "text": {"field": "t"}}},
                    {"data": {"values": [{"grp": "Mir92a-/-Foxp3gfp with Ctrl siRNA", "y": 97, "t": "Foxp3-GFP⁺"}]}, "mark": {"type": "text", "fontSize": 12.5, "align": "center", "baseline": "middle", "dx": 1},
                     "encoding": {"x": {"field": "grp", "type": "nominal"}, "y": {"field": "y", "type": "quantitative"}, "text": {"field": "t"}}}
                  ]
                },
                {
                  "width": 56, "height": 46,
                  "layer": [
                    {"data": {"name": "eLegSym"}, "mark": {"type": "point", "filled": true, "size": 45, "opacity": 1},
                     "encoding": {
                       "x": {"datum": 0, "type": "quantitative", "scale": {"domain": [101, 157]}, "axis": null},
                       "y": {"field": "row", "type": "quantitative", "scale": {"domain": [0.5, 3.5], "reverse": true}, "axis": null},
                       "color": {"field": "grp", "type": "nominal", "scale": {"domain": ["Foxp3gfp with Ctrl siRNA", "Mir92a-/-Foxp3gfp with Ctrl siRNA", "Mir92a-/-Foxp3gfp with Foxo1 siRNA"], "range": ["#000000", "#e8322b", "#3553a4"]}, "legend": null},
                       "shape": {"field": "grp", "type": "nominal", "scale": {"domain": ["Foxp3gfp with Ctrl siRNA", "Mir92a-/-Foxp3gfp with Ctrl siRNA", "Mir92a-/-Foxp3gfp with Foxo1 siRNA"], "range": ["circle", "triangle-up", "triangle-up"]}, "legend": null}
                     }},
                    {"data": {"name": "eLegText"}, "transform": [{"filter": "datum.style == 'italic'"}], "mark": {"type": "text", "fontSize": 12, "fontStyle": "italic", "align": "left", "baseline": "middle"},
                     "encoding": {"x": {"field": "x", "type": "quantitative"}, "y": {"field": "row", "type": "quantitative"}, "text": {"field": "text"}}},
                    {"data": {"name": "eLegText"}, "transform": [{"filter": "datum.style == 'normal'"}], "mark": {"type": "text", "fontSize": 12, "align": "left", "baseline": "middle"},
                     "encoding": {"x": {"field": "x", "type": "quantitative"}, "y": {"field": "row", "type": "quantitative"}, "text": {"field": "text"}}}
                  ]
                }
              ],
              "spacing": 17, "bounds": "flush",
              "resolve": {"scale": {"color": "independent", "shape": "independent", "stroke": "independent"}, "legend": {"color": "independent", "shape": "independent", "stroke": "independent"}}
            }
          ],
          "spacing": 360, "bounds": "flush",
          "resolve": {"scale": {"color": "independent", "shape": "independent", "stroke": "independent", "size": "independent"}, "legend": {"color": "independent", "shape": "independent", "stroke": "independent", "size": "independent"}}
        }
      ],
      "spacing": 199, "bounds": "flush",
      "resolve": {"scale": {"color": "independent", "shape": "independent", "stroke": "independent", "size": "independent"}, "legend": {"color": "independent", "shape": "independent", "stroke": "independent", "size": "independent"}}
    }
  ]
}
